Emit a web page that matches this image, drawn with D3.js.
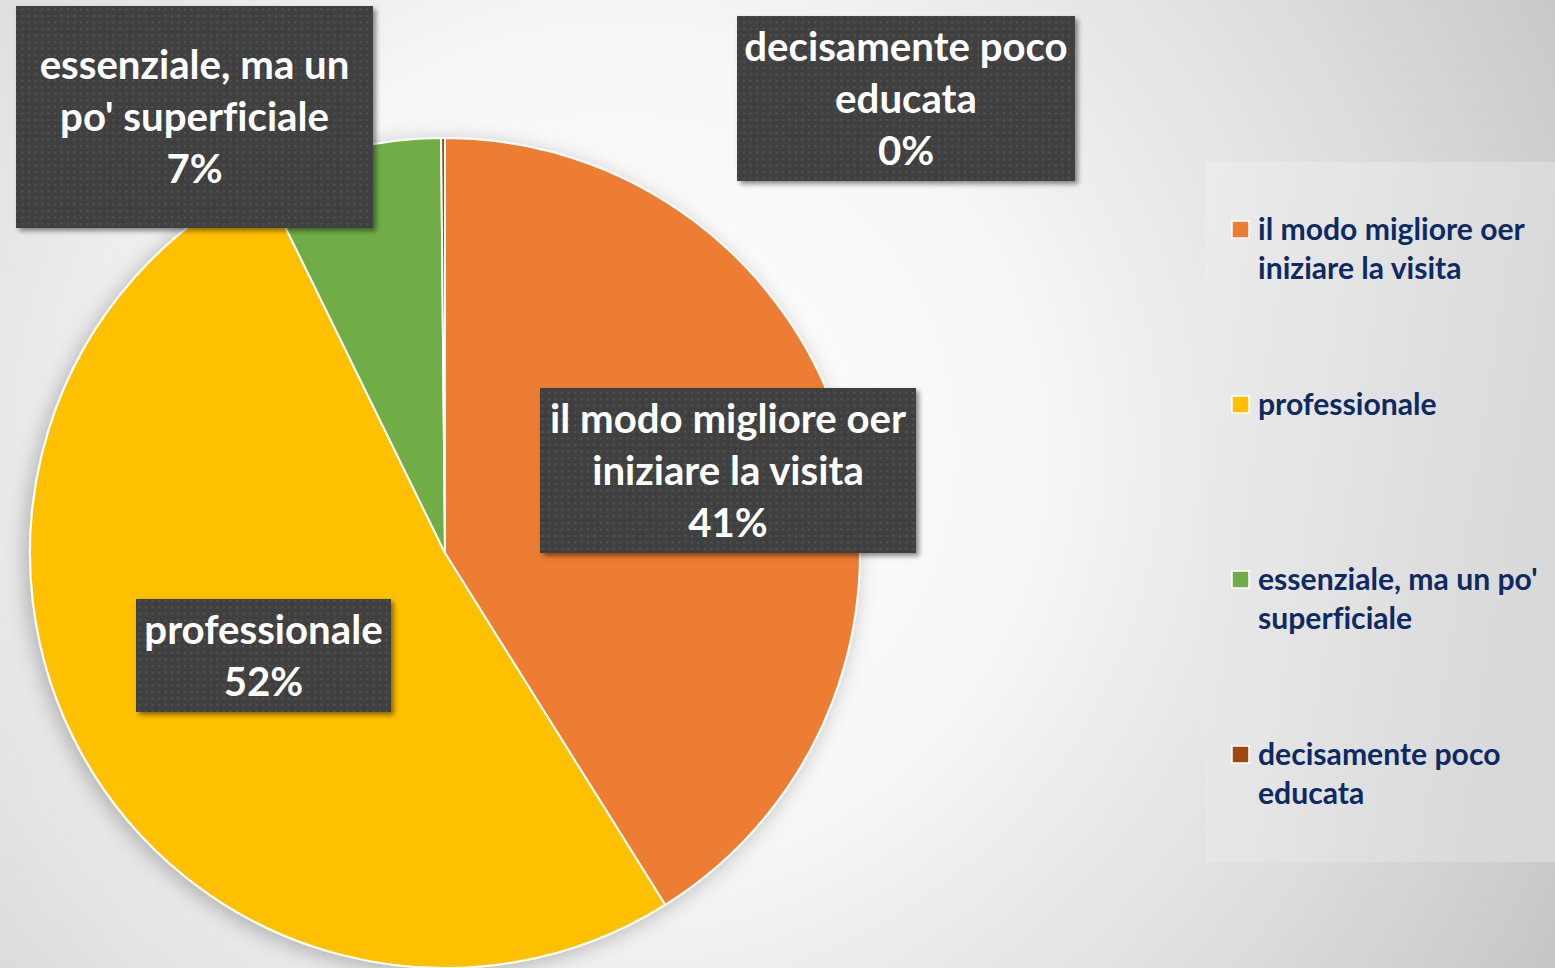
<!DOCTYPE html>
<html><head><meta charset="utf-8">
<script src="https://cdn.jsdelivr.net/npm/d3@7"></script>
<style>html,body{margin:0;padding:0;overflow:hidden;}svg{display:block;}text{font-variant-ligatures:none;font-feature-settings:"liga" 0;}</style>
</head><body>
<svg id="chart" width="1555" height="968"></svg>
<script>
// ---- data ----
const categories = ["il modo migliore oer iniziare la visita", "professionale", "essenziale, ma un po' superficiale", "decisamente poco educata"];
const values = [41.1, 51.65, 7.1, 0.15];
const pctLabels = ["41%", "52%", "7%", "0%"];
const labelLines = [["il modo migliore oer", "iniziare la visita"], ["professionale"], ["essenziale, ma un", "po' superficiale"], ["decisamente poco", "educata"]];
const legendLines = [["il modo migliore oer", "iniziare la visita"], ["professionale"], ["essenziale, ma un po'", "superficiale"], ["decisamente poco", "educata"]];
const colors = ["#ED7D31", "#FFC000", "#70AD47", "#9E480E"];

// ---- layout ----
const W = 1555, H = 968;
const cx = 445, cy = 553, R = 415;
const labelBoxes = [ // [x0, y0, x1, y1]
  [540, 388, 916, 553],
  [136, 599, 391, 712],
  [16, 6, 373, 228],
  [737, 16, 1075, 181]
];
const FONT = "Lato, 'Open Sans', sans-serif";

const svg = d3.select("#chart");
const defs = svg.append("defs");

const bg = defs.append("radialGradient").attr("id", "bg").attr("gradientUnits", "userSpaceOnUse")
  .attr("cx", 620).attr("cy", 450).attr("r", 1150);
bg.append("stop").attr("offset", 0).attr("stop-color", "#ffffff");
bg.append("stop").attr("offset", 0.35).attr("stop-color", "#f7f7f7");
bg.append("stop").attr("offset", 0.7).attr("stop-color", "#dcdcdc");
bg.append("stop").attr("offset", 1).attr("stop-color", "#bfbfbf");

const pat = defs.append("pattern").attr("id", "dots").attr("patternUnits", "userSpaceOnUse")
  .attr("width", 6.5).attr("height", 6.5);
pat.append("rect").attr("width", 6.5).attr("height", 6.5).attr("fill", "#3f3f3f");
pat.append("rect").attr("x", 2).attr("y", 2).attr("width", 2).attr("height", 2).attr("fill", "#555555");

const sh = defs.append("filter").attr("id", "boxShadow").attr("x", "-10%").attr("y", "-10%").attr("width", "130%").attr("height", "130%");
sh.append("feDropShadow").attr("dx", 3).attr("dy", 3).attr("stdDeviation", 2.5).attr("flood-color", "#000").attr("flood-opacity", 0.45);

const psh = defs.append("filter").attr("id", "pieShadow").attr("x", "-20%").attr("y", "-20%").attr("width", "140%").attr("height", "140%");
psh.append("feDropShadow").attr("dx", -4).attr("dy", 4).attr("stdDeviation", 10).attr("flood-color", "#000").attr("flood-opacity", 0.25);

const lg = defs.append("linearGradient").attr("id", "legbg").attr("x1", 0).attr("y1", 0).attr("x2", 1).attr("y2", 0.3);
lg.append("stop").attr("offset", 0).attr("stop-color", "#ececec");
lg.append("stop").attr("offset", 1).attr("stop-color", "#d9d9d9");

svg.append("rect").attr("width", W).attr("height", H).attr("fill", "url(#bg)");

// ---- pie ----
const pie = d3.pie().sort(null).value(d => d)(values);
const arc = d3.arc().innerRadius(0).outerRadius(R);
const pieG = svg.append("g").attr("transform", `translate(${cx},${cy})`).attr("filter", "url(#pieShadow)");
pieG.selectAll("path").data(pie).join("path")
  .attr("d", arc)
  .attr("fill", (d, i) => colors[i])
  .attr("stroke", "#ffffff").attr("stroke-width", 2).attr("stroke-linejoin", "round");

// ---- font sizing ----
const probe = svg.append("text").attr("font-family", FONT).attr("font-weight", 700).attr("font-size", 100).text("il modo migliore oer");
const w100 = probe.node().getComputedTextLength();
probe.remove();
const labelSize = 100 * 356 / w100;
const legendSize = 100 * 267 / w100;

// ---- data labels ----
const lblG = svg.append("g");
categories.forEach((c, i) => {
  const [x0, y0, x1, y1] = labelBoxes[i];
  const g = lblG.append("g");
  g.append("rect").attr("x", x0).attr("y", y0).attr("width", x1 - x0).attr("height", y1 - y0)
    .attr("fill", "url(#dots)").attr("filter", "url(#boxShadow)");
  const lines = labelLines[i].concat([pctLabels[i]]);
  const lh = 52;
  const midY = (y0 + y1) / 2;
  const xm = (x0 + x1) / 2;
  lines.forEach((t, j) => {
    g.append("text").attr("x", xm).attr("y", midY + (j - (lines.length - 1) / 2) * lh)
      .attr("dy", "0.35em").attr("text-anchor", "middle")
      .attr("font-family", FONT).attr("font-weight", 700).attr("font-size", labelSize)
      .attr("fill", "#ffffff").text(t);
  });
});

// ---- legend ----
svg.append("rect").attr("x", 1206).attr("y", 162).attr("width", 349).attr("height", 700).attr("fill", "url(#legbg)");
const legG = svg.append("g");
const legY0 = 229, legStep = 175, legLH = 39;
categories.forEach((c, i) => {
  const y = legY0 + i * legStep;
  legG.append("rect").attr("x", 1232).attr("y", y - 8).attr("width", 17).attr("height", 17)
    .attr("fill", colors[i]).attr("stroke", "#ffffff").attr("stroke-width", 1.5);
  legendLines[i].forEach((t, j) => {
    legG.append("text").attr("x", 1258).attr("y", y + j * legLH).attr("dy", "0.35em")
      .attr("font-family", FONT).attr("font-weight", 700).attr("font-size", legendSize)
      .attr("fill", "#0d2a62").text(t);
  });
});
</script>
</body></html>
